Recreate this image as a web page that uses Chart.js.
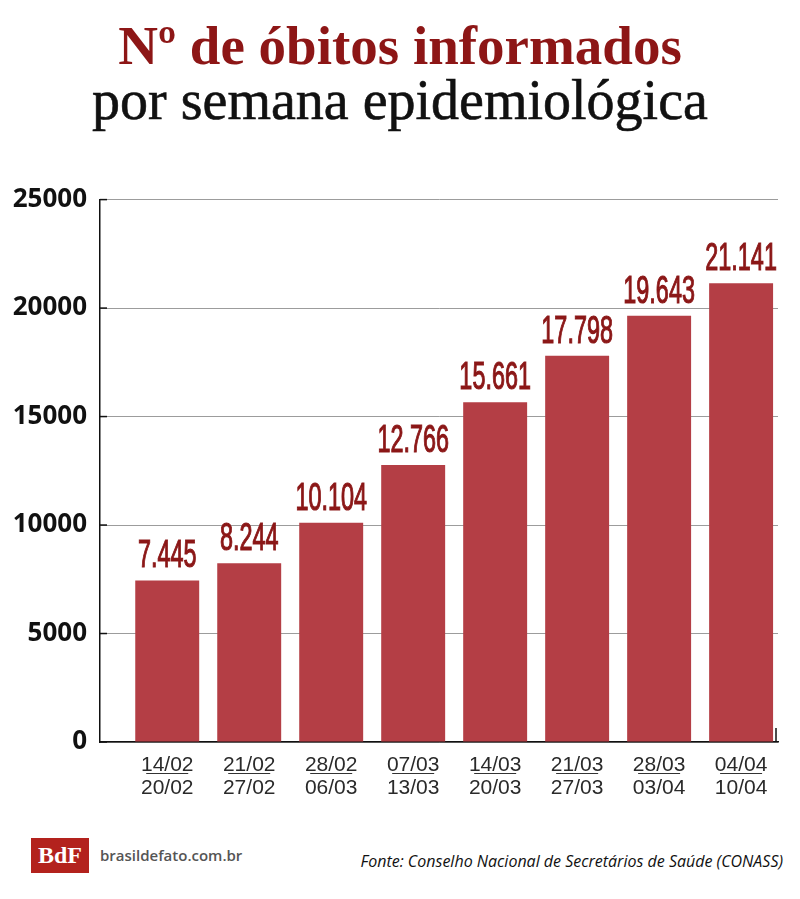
<!DOCTYPE html>
<html>
<head>
<meta charset="utf-8">
<script src="https://cdn.jsdelivr.net/npm/chart.js@4/dist/chart.umd.min.js"></script>
<style>
  html, body { margin: 0; padding: 0; background: #fff; }
  body { width: 800px; height: 899px; position: relative; overflow: hidden; }
  .titulo { position: absolute; left: 0; width: 800px; text-align: center; font-family: "Liberation Serif", serif; white-space: nowrap; }
  #t1 { top: 14px; font-size: 55px; font-weight: bold; color: #8d1616; }
  #t2 { top: 68px; font-size: 56px; color: #111; -webkit-text-stroke: 0.6px #111; }
  #grafico { position: absolute; left: 0; top: 171px; width: 800px; height: 639px; }
  #logo { position: absolute; left: 31px; top: 838px; width: 58px; height: 35px; background: #b3221d; color: #fff;
          font: bold 24px "Liberation Serif", serif; text-align: center; line-height: 35px; }
  #site { position: absolute; left: 100px; top: 845px; font: 600 15px "Open Sans", sans-serif; color: #555; }
  #fonte { position: absolute; right: 17px; top: 850px; font: italic 16px "Open Sans", sans-serif; color: #111; }
</style>
</head>
<body>
<div class="titulo" id="t1">Nº de óbitos informados</div>
<div class="titulo" id="t2">por semana epidemiológica</div>
<div id="grafico"><canvas id="obitosChart"></canvas></div>
<div id="logo">BdF</div>
<div id="site">brasildefato.com.br</div>
<div id="fonte">Fonte: Conselho Nacional de Secretários de Saúde (CONASS)</div>
<script>
// semanas epidemiológicas (início / fim)
const inicioSemana = ['14/02', '21/02', '28/02', '07/03', '14/03', '21/03', '28/03', '04/04'];
const fimSemana = ['20/02', '27/02', '06/03', '13/03', '20/03', '27/03', '03/04', '10/04'];
// nº de óbitos por semana
const obitos = [7445, 8244, 10104, 12766, 15661, 17798, 19643, 21141];
// eixo y
const yMin = 0;
const yMax = 25000;
const yPasso = 5000;

// 21141 -> "21.141"
function formatar(n) {
    return String(n).replace(/\B(?=(\d{3})+(?!\d))/g, '.');
}

// rótulos, traço entre as datas e marcas do eixo
const extras = {
    id: 'extras',
    afterDatasetsDraw(chart) {
        const ctx = chart.ctx;
        const area = chart.chartArea;
        const x = chart.scales.x;
        const y = chart.scales.y;

        // marcas curtas dentro do eixo y
        ctx.save();
        ctx.strokeStyle = '#111';
        ctx.lineWidth = 1.5;
        y.ticks.forEach(t => {
            const py = y.getPixelForValue(t.value);
            ctx.beginPath();
            ctx.moveTo(area.left, py);
            ctx.lineTo(area.left + 7, py);
            ctx.stroke();
        });
        // marca no fim do eixo x
        ctx.beginPath();
        ctx.moveTo(area.right - 2, area.bottom);
        ctx.lineTo(area.right - 2, area.bottom - 14);
        ctx.stroke();
        ctx.restore();

        // valores acima das barras
        const meta = chart.getDatasetMeta(0);
        ctx.save();
        ctx.fillStyle = '#8b1717';
        ctx.strokeStyle = '#8b1717';
        ctx.lineWidth = 1.2;
        ctx.font = '39px "Liberation Sans", sans-serif';
        ctx.textAlign = 'center';
        ctx.textBaseline = 'alphabetic';
        meta.data.forEach((bar, i) => {
            ctx.save();
            ctx.translate(bar.x, bar.y - 13);
            ctx.scale(0.6, 1);
            ctx.fillText(formatar(obitos[i]), 0, 0);
            ctx.strokeText(formatar(obitos[i]), 0, 0);
            ctx.restore();
        });
        ctx.restore();

        // traço entre início e fim da semana
        ctx.save();
        ctx.strokeStyle = '#333';
        ctx.lineWidth = 1;
        const sy = area.bottom + 31;
        inicioSemana.forEach((s, i) => {
            const px = x.getPixelForValue(i);
            ctx.beginPath();
            ctx.moveTo(px - 21, sy + 0.5);
            ctx.lineTo(px + 21, sy + 0.5);
            ctx.stroke();
        });
        ctx.restore();
    }
};

const ctx = document.getElementById('obitosChart').getContext('2d');
new Chart(ctx, {
    type: 'bar',
    data: {
        datasets: [{
            label: 'Óbitos',
            data: obitos.map((v, i) => ({ x: i, y: v })),
            backgroundColor: '#b43e45',
            borderWidth: 0,
            categoryPercentage: 1,
            barPercentage: 0.78
        }]
    },
    options: {
        responsive: true,
        maintainAspectRatio: false,
        animation: false,
        layout: { padding: { top: 0, right: 22, left: 0, bottom: 0 } },
        plugins: {
            legend: { display: false },
            tooltip: { enabled: false }
        },
        scales: {
            x: {
                type: 'linear',
                offset: false,
                min: -0.82,
                max: 7.45,
                grid: { display: false },
                border: { display: true, color: '#111', width: 1.5 },
                ticks: {
                    stepSize: 1,
                    includeBounds: false,
                    autoSkip: false,
                    maxRotation: 0,
                    padding: 4,
                    color: '#2a2a2a',
                    font: { family: '"Liberation Sans", sans-serif', size: 21, lineHeight: 1.1 },
                    callback: function(value) {
                        return Number.isInteger(value) ? [inicioSemana[value], fimSemana[value]] : '';
                    }
                },
                afterFit: function(scale) { scale.height = 68; }
            },
            y: {
                min: yMin,
                max: yMax,
                grid: { color: '#9c9c9c', lineWidth: 1, drawTicks: false },
                border: { display: true, color: '#111', width: 1.5 },
                ticks: {
                    stepSize: yPasso,
                    padding: 13,
                    color: '#111',
                    font: { family: '"Open Sans", sans-serif', size: 26, weight: '700' },
                    callback: function(value) { return String(value); }
                },
                afterFit: function(scale) { scale.width = 100; }
            }
        }
    },
    plugins: [extras]
});
</script>
</body>
</html>
